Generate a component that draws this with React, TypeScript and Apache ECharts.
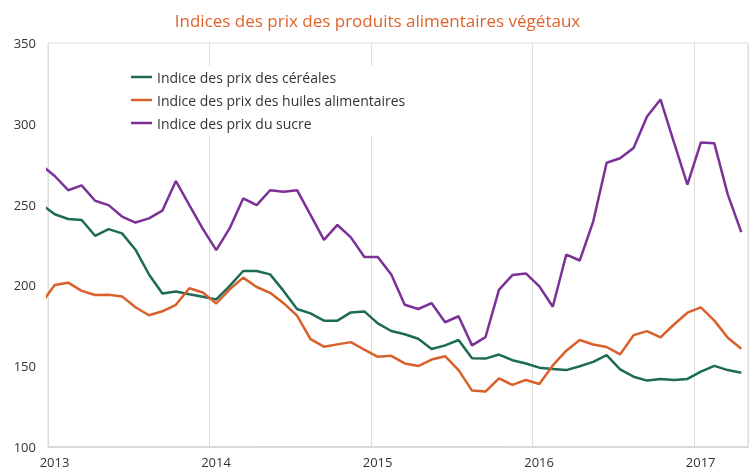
import React, { useEffect, useRef } from "react";
import * as echarts from "echarts";

// Monthly observations, Dec 2012 (clipped at the left edge) to Apr 2017
const startYear = 2012;
const startMonth = 12;
const months: string[] = [];
for (let k = 0; k < 53; k++) {
  const m0 = startMonth - 1 + k;
  const y = startYear + Math.floor(m0 / 12);
  const m = (m0 % 12) + 1;
  months.push(`${y}-${m < 10 ? "0" + m : m}`);
}

const seriesNames = [
  "Indice des prix des céréales",
  "Indice des prix des huiles alimentaires",
  "Indice des prix du sucre",
];

const cereales = [
  250.2,
  244, 241.1, 240.5, 230.7, 234.8, 232.2, 222.1, 206.8, 195, 196.2, 194.5, 193,
  191.3, 199.7, 208.9, 208.9, 206.8, 196.6, 185.4, 182.7, 178.2, 178.2, 183.3, 183.9,
  176.5, 171.8, 169.8, 167, 160.6, 162.9, 166.2, 154.9, 154.7, 157.2, 153.7, 151.7,
  149.1, 148.3, 147.6, 150, 152.7, 156.8, 148, 143.5, 141.1, 142.1, 141.5, 142.1,
  146.6, 150.2, 147.6, 146,
];

const huiles = [
  188.9,
  200.2, 201.7, 196.6, 194.1, 194.2, 193.2, 186.5, 181.5, 184, 188, 198.2, 195.6,
  188.8, 197.6, 204.8, 199, 195.4, 189, 181.3, 166.8, 162.1, 163.5, 164.9, 160.2,
  155.8, 156.4, 151.7, 150.1, 154.1, 156.2, 147.6, 134.9, 134.3, 142.5, 138.4, 141.5,
  139, 150.5, 159.6, 166.2, 163.4, 161.9, 157.3, 169.2, 171.7, 167.8, 175.8, 183.1,
  186.4, 178.2, 167.6, 160.8,
];

const sucre = [
  274.5,
  267.7, 258.9, 261.9, 252.4, 249.7, 242.6, 238.9, 241.5, 246.3, 264.6, 249.7, 235,
  221.8, 235.4, 253.8, 249.7, 258.9, 257.9, 258.9, 243.6, 228.2, 237.4, 229.7, 217.6,
  217.6, 206.8, 188, 185.4, 189, 177.2, 180.9, 162.9, 168, 197.2, 206.4, 207.4,
  199.4, 186.8, 219.1, 215.4, 239.5, 275.9, 278.7, 285, 304.5, 315.1, 288.5, 262.4,
  288.5, 287.9, 256.2, 233,
];

const yearLabels = ["2013", "2014", "2015", "2016", "2017"];
const colors = ["#1d6b57", "#d9602a", "#7b3196"];

// month index relative to Jan 2013, plotted at mid-month
const xOf = (k: number) => k - 1 + 0.5;

export default function App() {
  const ref = useRef<HTMLDivElement>(null);
  useEffect(() => {
    if (!ref.current) return;
    const chart = echarts.init(ref.current, undefined, { renderer: "svg" });
    const mk = (vals: number[]) => vals.map((v, k) => [xOf(k), v]);
    chart.setOption({
      animation: false,
      title: {
        text: "Indices des prix des produits alimentaires végétaux",
        left: "center",
        top: 7,
        textStyle: {
          color: "#e0622a",
          fontSize: 17,
          fontWeight: "normal",
          fontFamily: "Open Sans",
        },
      },
      legend: {
        orient: "vertical",
        left: 125,
        top: 66,
        icon: "rect",
        itemWidth: 21,
        itemHeight: 2.5,
        itemGap: 9,
        padding: [4, 6, 6, 6],
        backgroundColor: "#ffffff",
        data: seriesNames,
        textStyle: {
          color: "#333",
          fontSize: 14,
          lineHeight: 14,
          fontFamily: "Open Sans",
        },
      },
      grid: {
        left: 48,
        right: 7,
        top: 43,
        bottom: 17,
        show: true,
        borderColor: "#dddddd",
        borderWidth: 1,
      },
      xAxis: {
        type: "value",
        min: 0,
        max: 52,
        interval: 12,
        axisLine: { show: true, lineStyle: { color: "#d4d4d4", width: 1.5 } },
        axisTick: { show: false },
        splitLine: { show: true, lineStyle: { color: "#dddddd", width: 1 } },
        axisLabel: {
          color: "#333",
          fontSize: 13,
          fontFamily: "Open Sans",
          margin: 8,
          padding: [0, 0, 0, 13],
          formatter: (v: number) =>
            v % 12 === 0 ? yearLabels[v / 12] ?? "" : "",
        },
      },
      yAxis: {
        type: "value",
        min: 100,
        max: 350,
        interval: 50,
        axisLine: { show: false },
        axisTick: { show: false },
        splitLine: { show: false },
        axisLabel: {
          color: "#333",
          fontSize: 13,
          fontFamily: "Open Sans",
          margin: 12,
        },
      },
      series: [
        { name: seriesNames[0], data: mk(cereales) },
        { name: seriesNames[1], data: mk(huiles) },
        { name: seriesNames[2], data: mk(sucre) },
      ].map((s, i) => ({
        ...s,
        type: "line",
        symbol: "none",
        clip: true,
        color: colors[i],
        itemStyle: { color: colors[i] },
        lineStyle: { color: colors[i], width: 2.5 },
      })),
    });
    return () => chart.dispose();
  }, []);
  return (
    <div
      ref={ref}
      style={{ position: "fixed", left: 0, top: 0, width: 755, height: 468 }}
    />
  );
}
